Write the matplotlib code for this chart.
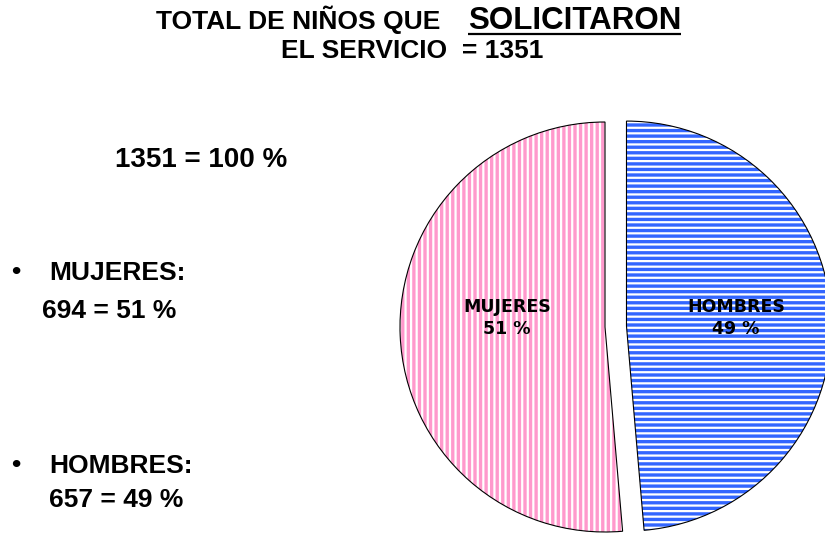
import matplotlib
matplotlib.use("Agg")
import matplotlib.pyplot as plt

# ---- data ----
categories = ["HOMBRES", "MUJERES"]
counts = [657, 694]
percents = [49, 51]
total = 1351
colors = ["#3366FF", "#FF99CC"]
hatches = ["---", "|||"]

W, H = 825, 533
plt.rcParams['font.family'] = ['Liberation Sans', 'DejaVu Sans']
plt.rcParams['hatch.linewidth'] = 2.4

fig = plt.figure(figsize=(W / 100, H / 100), dpi=100)
ax = fig.add_axes([0, 0, 1, 1])

def py(y):
    return H - y

cx, cy, r = 605, py(327), 205
explode = [21.5, 0.0]  # data units (pixels here)

# hatched fills
wedges, _ = ax.pie(counts, colors=["white", "white"], startangle=90,
                   counterclock=False, explode=explode, center=(cx, cy),
                   radius=r, frame=False,
                   wedgeprops=dict(linewidth=0))
for w, c, h in zip(wedges, colors, hatches):
    w.set_edgecolor(c)
    w.set_hatch(h)
    w.set_linewidth(0)

# outlines
ax.pie(counts, colors=["none", "none"], startangle=90,
       counterclock=False, explode=explode, center=(cx, cy),
       radius=r, frame=False,
       wedgeprops=dict(linewidth=0.8, edgecolor="black", facecolor="none"))

ax.set_xlim(0, W)
ax.set_ylim(0, H)
ax.set_aspect('equal')
ax.axis('off')

# slice labels
label_pos = {"MUJERES": (507, 318), "HOMBRES": (736, 318)}
for cat, pct in zip(categories, percents):
    x, y = label_pos[cat]
    ax.text(x, py(y), f"{cat}\n{pct} %", ha='center', va='center',
            fontsize=12.5, fontweight='bold', family='DejaVu Sans',
            linespacing=1.35, color='black')

# title
ax.text(156, py(29), "TOTAL DE NIÑOS QUE", fontsize=19, fontweight='bold',
        ha='left', va='baseline')
sol = ax.text(468, py(29), "SOLICITARON", fontsize=22.5, fontweight='bold',
              ha='left', va='baseline')
ax.text(412, py(58), f"EL SERVICIO  = {total}", fontsize=19, fontweight='bold',
        ha='center', va='baseline')

# left side text
ax.text(201, py(167), f"{total} = 100 %", fontsize=20, fontweight='bold',
        ha='center', va='baseline')

order = [1, 0]  # MUJERES first, then HOMBRES
ys = [(280, 318), (473, 507)]
for idx, (y1, y2) in zip(order, ys):
    ax.text(11, py(y1 - 1), "•", fontsize=19, fontweight='bold',
            ha='left', va='baseline')
    ax.text(49, py(y1), f"{categories[idx]}:", fontsize=19, fontweight='bold',
            ha='left', va='baseline')
    x2 = 42 if idx == 1 else 49
    ax.text(x2, py(y2), f"{counts[idx]} = {percents[idx]} %", fontsize=19,
            fontweight='bold', ha='left', va='baseline')

fig.canvas.draw()
bb = sol.get_window_extent()
ax.plot([bb.x0, bb.x1], [py(34), py(34)], color='black', lw=1.6,
        solid_capstyle='butt')

fig.savefig("out.png", dpi=100)
